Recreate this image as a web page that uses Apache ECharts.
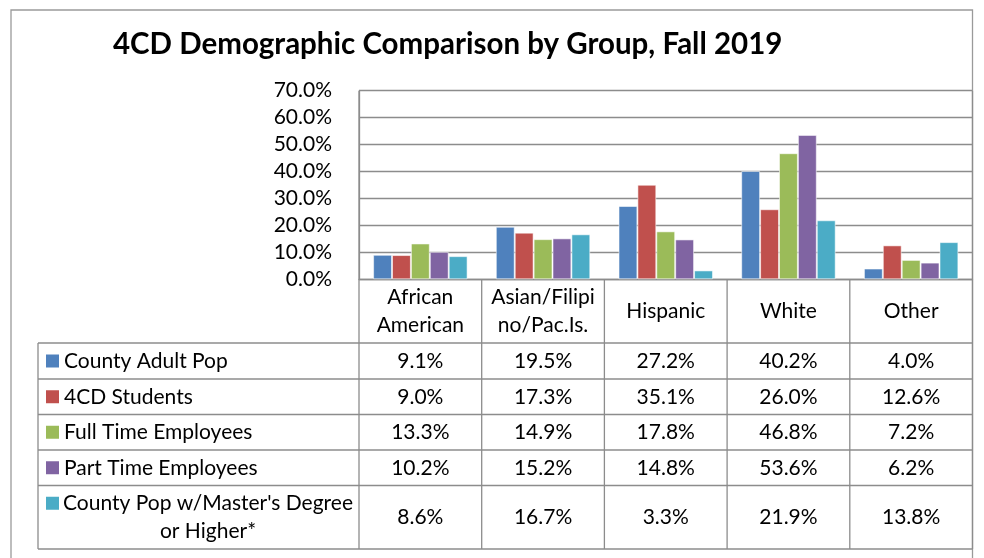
<!DOCTYPE html>
<html lang="en">
<head>
    <meta charset="UTF-8">
    <title>4CD Demographic Comparison</title>
    <script src="https://cdn.jsdelivr.net/npm/echarts@6/dist/echarts.min.js"></script>
    <style>
        html, body { margin: 0; padding: 0; background: #fff; }
        #main { width: 984px; height: 558px; }
    </style>
</head>
<body>
<div id="main"></div>
<script type="text/javascript">
    // data (percent)
    var categories = ['African\nAmerican', 'Asian/Filipi\nno/Pac.Is.', 'Hispanic', 'White', 'Other'];
    var seriesNames = ['County Adult Pop', '4CD Students', 'Full Time Employees', 'Part Time Employees', "County Pop w/Master's Degree\nor Higher*"];
    var countyAdultPop = [9.1, 19.5, 27.2, 40.2, 4.0];
    var students = [9.0, 17.3, 35.1, 26.0, 12.6];
    var fullTime = [13.3, 14.9, 17.8, 46.8, 7.2];
    var partTime = [10.2, 15.2, 14.8, 53.6, 6.2];
    var mastersPop = [8.6, 16.7, 3.3, 21.9, 13.8];
    var colors = ['#4F81BD', '#C0504D', '#9BBB59', '#8064A2', '#4BACC6'];

    var allSeries = [countyAdultPop, students, fullTime, partTime, mastersPop];
    var font = 'Lato';
    var fs = 21;
    var lineColor = '#8c8c8c';

    // layout
    var plotLeft = 359, plotRight = 972.5, plotTop = 90.7, plotBottom = 279.3;
    var tableLeft = 38;
    var rowLines = [343, 379, 414.5, 450, 485.5, 549];

    var chart = echarts.init(document.getElementById('main'));

    var option = {
        animation: false,
        color: colors,
        textStyle: {fontFamily: font},
        title: {
            text: '4CD Demographic Comparison by Group, Fall 2019',
            left: 113,
            top: 29,
            padding: 0,
            textStyle: {fontFamily: font, fontSize: 29.5, fontWeight: 'bold', color: '#000'}
        },
        grid: {
            left: plotLeft,
            right: 984 - plotRight,
            top: plotTop,
            bottom: 558 - plotBottom
        },
        xAxis: {
            type: 'category',
            data: categories,
            axisLine: {lineStyle: {color: lineColor, width: 1.3}},
            axisTick: {show: false},
            axisLabel: {
                color: '#000',
                fontFamily: font,
                fontSize: fs,
                lineHeight: 28,
                margin: 32,
                verticalAlign: 'middle',
                interval: 0
            }
        },
        yAxis: {
            type: 'value',
            min: 0,
            max: 70,
            interval: 10,
            axisLine: {show: true, lineStyle: {color: lineColor, width: 1.3}},
            axisTick: {show: false},
            splitLine: {lineStyle: {color: lineColor, width: 1.3}},
            axisLabel: {
                color: '#000',
                fontFamily: font,
                fontSize: fs,
                margin: 27,
                formatter: function (v) { return v.toFixed(1) + '%'; }
            }
        },
        series: seriesNames.map(function (name, i) {
            return {
                name: name,
                type: 'bar',
                data: allSeries[i],
                barGap: '0%',
                barCategoryGap: '23%',
                itemStyle: {borderColor: 'rgba(255,255,255,0.55)', borderWidth: 1}
            };
        })
    };
    chart.setOption(option);

    // data table below the plot, placed from the category axis
    var centers = categories.map(function (c, i) {
        return chart.convertToPixel({xAxisIndex: 0}, i);
    });
    var band = centers[1] - centers[0];
    var g = [];

    function line(x1, y1, x2, y2) {
        g.push({
            type: 'line', silent: true,
            shape: {x1: x1, y1: y1, x2: x2, y2: y2},
            style: {stroke: lineColor, lineWidth: 1.3}
        });
    }

    // outer chart border
    g.push({
        type: 'rect', silent: true,
        shape: {x: 11, y: 10, width: plotRight - 11, height: 560},
        style: {fill: 'none', stroke: '#9a9a9a', lineWidth: 1.3}
    });

    // table grid
    rowLines.forEach(function (y) { line(tableLeft, y, plotRight, y); });
    line(tableLeft, rowLines[0], tableLeft, rowLines[rowLines.length - 1]);
    line(plotLeft, plotTop, plotLeft, rowLines[rowLines.length - 1]);
    line(plotRight, plotTop, plotRight, rowLines[rowLines.length - 1]);
    for (var c = 1; c < categories.length; c++) {
        var bx = centers[c] - band / 2;
        line(bx, plotBottom, bx, rowLines[rowLines.length - 1]);
    }

    // rows: legend key, name, values
    seriesNames.forEach(function (name, r) {
        var top = rowLines[r], bottom = rowLines[r + 1];
        var mid = (top + bottom) / 2;
        var wrapped = name.indexOf('\n') >= 0;
        var keyY = wrapped ? mid - 14 : mid;
        g.push({
            type: 'rect', silent: true,
            shape: {x: 46, y: keyY - 6.5, width: 13, height: 13},
            style: {fill: colors[r]}
        });
        g.push({
            type: 'text', silent: true,
            x: wrapped ? 208 : 64, y: mid,
            style: {
                text: name, fill: '#000', font: fs + 'px ' + font,
                align: wrapped ? 'center' : 'left', verticalAlign: 'middle', lineHeight: 28
            }
        });
        allSeries[r].forEach(function (v, i) {
            g.push({
                type: 'text', silent: true,
                x: centers[i], y: mid,
                style: {
                    text: v.toFixed(1) + '%', fill: '#000', font: fs + 'px ' + font,
                    align: 'center', verticalAlign: 'middle'
                }
            });
        });
    });

    chart.setOption({graphic: g});
</script>
</body>
</html>
